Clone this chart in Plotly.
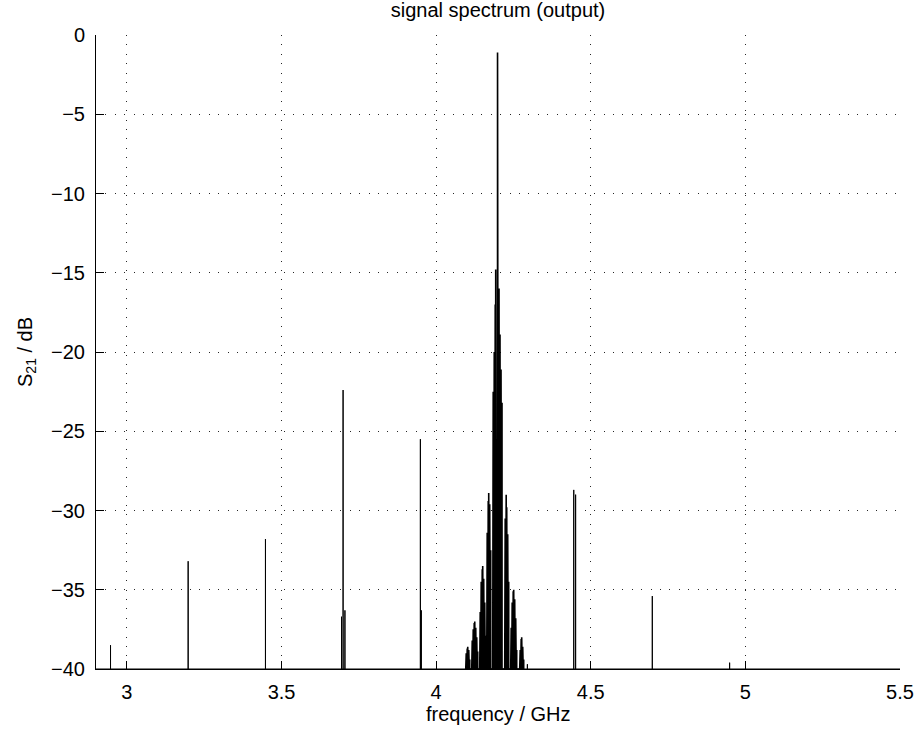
import plotly.graph_objects as go

# Isolated spectral lines (GHz, dB)
spur_freq = [2.947, 3.198, 3.448, 3.694, 3.699, 3.705, 3.949, 3.952,
             4.295, 4.445, 4.451, 4.699, 4.949]
spur_db = [-38.5, -33.2, -31.8, -36.7, -22.4, -36.3, -25.5, -36.3,
           -39.7, -28.7, -29.0, -35.4, -39.6]

# Dense cluster around the carrier at 4.2 GHz (GHz, dB)
cluster_freq = [4.0957, 4.0973, 4.0989, 4.1005, 4.1021, 4.1037, 4.1054, 4.1070, 4.1086,
                4.1151, 4.1167, 4.1183, 4.1199, 4.1215, 4.1231, 4.1248, 4.1264,
                4.1280, 4.1296, 4.1312, 4.1328, 4.1344,
                4.1409, 4.1425, 4.1441, 4.1457, 4.1474, 4.1490, 4.1506, 4.1522,
                4.1538, 4.1554, 4.1571, 4.1587, 4.1603,
                4.1635, 4.1651, 4.1668, 4.1684, 4.1700, 4.1716, 4.1732, 4.1748, 4.1764,
                4.1829, 4.1845, 4.1862, 4.1878, 4.1894, 4.1910, 4.1926, 4.1942,
                4.1959, 4.1985, 4.2007,
                4.2033, 4.2049, 4.2065, 4.2081, 4.2098, 4.2114, 4.2130,
                4.2217, 4.2233, 4.2249, 4.2265, 4.2282, 4.2298, 4.2314, 4.2330, 4.2346,
                4.2411, 4.2427, 4.2443, 4.2459, 4.2476, 4.2492, 4.2508, 4.2524,
                4.2540, 4.2556, 4.2573, 4.2589, 4.2605,
                4.2702, 4.2718, 4.2734, 4.2750, 4.2766, 4.2782, 4.2799, 4.2815, 4.2831]
cluster_db = [-39.3, -39.0, -38.9, -38.7, -38.6, -38.7, -38.8, -39.1, -39.4,
              -38.9, -38.2, -37.8, -37.5, -37.3, -37.1, -37.0, -37.2,
              -37.4, -37.7, -38.0, -38.5, -38.9,
              -38.0, -36.4, -35.2, -34.5, -34.0, -33.7, -33.5, -33.9,
              -34.3, -35.0, -35.8, -36.8, -37.9,
              -33.0, -31.4, -30.2, -29.4, -28.9, -29.1, -29.6, -30.8, -32.5,
              -23.8, -22.5, -21.3, -20.0, -18.6, -17.0, -14.8, -24.0,
              -26.5, -1.1, -27.0,
              -16.0, -17.5, -18.9, -20.0, -21.1, -22.2, -23.2,
              -32.0, -30.5, -29.3, -29.0, -29.8, -30.4, -31.5, -32.8, -34.5,
              -38.5, -37.4, -36.5, -35.8, -35.4, -35.1, -35.0, -35.2,
              -35.6, -36.1, -36.8, -37.6, -38.8,
              -39.2, -38.8, -38.4, -38.1, -38.0, -38.2, -38.6, -39.0, -39.4]

x_range = [2.9, 5.5]
y_range = [-40, 0]
x_ticks = [3, 3.5, 4, 4.5, 5, 5.5]
x_ticklabels = ["3", "3.5", "4", "4.5", "5", "5.5"]
y_ticks = [0, -5, -10, -15, -20, -25, -30, -35, -40]

floor = y_range[0]


def spike_path(freqs, levels, start=None, end=None):
    xs, ys = [], []
    if start is not None:
        xs.append(start)
        ys.append(floor)
    for f, d in sorted(zip(freqs, levels)):
        xs += [f, f, f]
        ys += [floor, d, floor]
    if end is not None:
        xs.append(end)
        ys.append(floor)
    return xs, ys


sx, sy = spike_path(spur_freq, spur_db, x_range[0], x_range[1])
cx, cy = spike_path(cluster_freq, cluster_db)

fig = go.Figure()
fig.add_trace(go.Scatter(x=sx, y=sy, mode="lines",
                         line=dict(color="black", width=1),
                         hoverinfo="skip", showlegend=False))
fig.add_trace(go.Scatter(x=cx, y=cy, mode="lines",
                         line=dict(color="black", width=1.6),
                         hoverinfo="skip", showlegend=False))

font = dict(family="Liberation Sans, Arial, sans-serif", size=20, color="black")
grid = dict(showgrid=True, gridcolor="rgba(0,0,0,0.85)", gridwidth=1,
            griddash="1px,8.4px", zeroline=False, automargin=False,
            showline=True, linecolor="black", linewidth=1, mirror=False,
            ticks="inside", ticklen=8, tickcolor="black", tickwidth=1)

fig.update_layout(
    width=919, height=729,
    margin=dict(l=96, r=19, t=35, b=60),
    paper_bgcolor="white", plot_bgcolor="white",
    font=font,
    title=dict(text="signal spectrum (output)", x=0.5, xref="paper",
               xanchor="center", y=1 - 10 / 729, yref="container",
               yanchor="middle", font=font, automargin=False),
    xaxis=dict(range=x_range, tickvals=x_ticks, ticktext=x_ticklabels,
               ticklabelstandoff=5, **grid),
    yaxis=dict(range=y_range, tickvals=y_ticks,
               ticklabelstandoff=6, **grid),
    annotations=[
        dict(text="frequency / GHz", xref="paper", yref="paper",
             x=0.5, y=-45 / 634, xanchor="center", yanchor="middle",
             showarrow=False, font=font),
        dict(text="S<sub>21</sub> / dB", xref="paper", yref="paper",
             x=-70 / 804, y=0.5, xanchor="center", yanchor="middle",
             textangle=-90, showarrow=False, font=font),
    ],
)

fig.write_html("out.html")
